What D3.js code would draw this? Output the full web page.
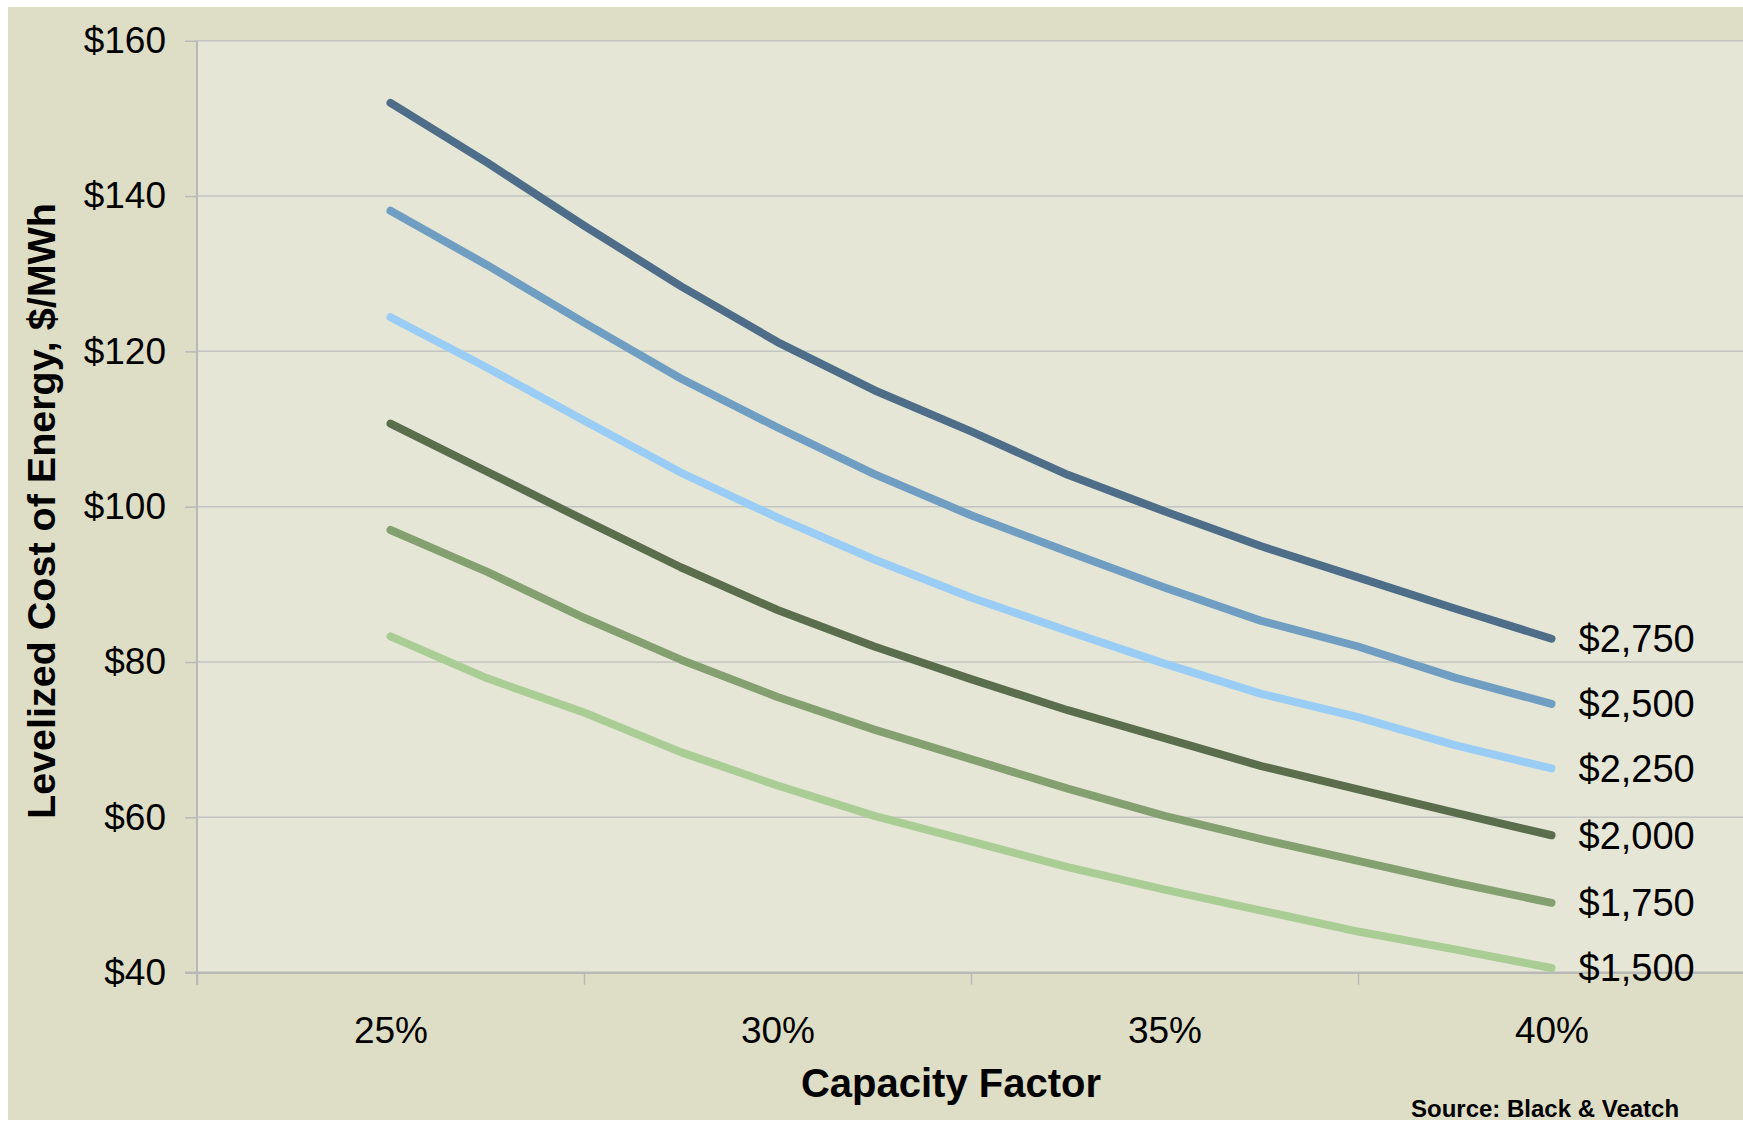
<!DOCTYPE html>
<html>
<head>
<meta charset="utf-8">
<script src="https://cdn.jsdelivr.net/npm/d3@7"></script>
<style>
  html, body { margin: 0; padding: 0; background: #ffffff; }
  svg { display: block; }
  text { font-family: "Liberation Sans", Arial, sans-serif; }
</style>
</head>
<body>
<svg id="chart" width="1743" height="1121"></svg>
<script>
// ---- data ----
const capacityFactors = [25, 26.25, 27.5, 28.75, 30, 31.25, 32.5, 33.75, 35, 36.25, 37.5, 38.75, 40];
const seriesNames = ["$2,750", "$2,500", "$2,250", "$2,000", "$1,750", "$1,500"];
const cost2750 = [152.0, 144.3, 136.2, 128.4, 121.2, 115.0, 109.7, 104.1, 99.4, 94.9, 90.9, 86.9, 83.0];
const cost2500 = [138.1, 131.1, 123.7, 116.5, 110.2, 104.2, 98.9, 94.2, 89.6, 85.3, 82.0, 78.0, 74.6];
const cost2250 = [124.4, 117.9, 111.1, 104.4, 98.6, 93.2, 88.3, 84.0, 79.8, 75.9, 72.9, 69.3, 66.3];
const cost2000 = [110.7, 104.5, 98.3, 92.2, 86.7, 82.0, 77.8, 73.8, 70.2, 66.6, 63.6, 60.6, 57.7];
const cost1750 = [97.0, 91.6, 85.7, 80.3, 75.5, 71.3, 67.5, 63.7, 60.2, 57.2, 54.4, 51.6, 49.0];
const cost1500 = [83.3, 77.9, 73.5, 68.4, 64.1, 60.2, 56.9, 53.6, 50.7, 48.0, 45.3, 43.0, 40.6];
const seriesValues = [cost2750, cost2500, cost2250, cost2000, cost1750, cost1500];
const seriesColors = ["#4d6d88", "#6f9ec2", "#99cdf6", "#5a6e4e", "#84a070", "#aacd96"];
const yTicks = [40, 60, 80, 100, 120, 140, 160];
const xLabelValues = [25, 30, 35, 40];
const xTickValues = [22.5, 27.5, 32.5, 37.5];
const xTitle = "Capacity Factor";
const yTitle = "Levelized Cost of Energy,  $/MWh";
const sourceText = "Source: Black & Veatch";

// ---- layout ----
const svg = d3.select("#chart");
const W = 1743, H = 1121;
const plotL = 197, plotR = 1745, plotT = 40.7, plotB = 972.7;

const x = d3.scaleLinear().domain([22.5, 42.5]).range([plotL, plotR]);
const y = d3.scaleLinear().domain([40, 160]).range([plotB, plotT]);

// outer background
svg.append("rect").attr("x", 8).attr("y", 7).attr("width", W - 8).attr("height", 1120 - 7)
  .attr("fill", "#dedec6");
// plot background
svg.append("rect").attr("x", plotL).attr("y", plotT).attr("width", plotR - plotL).attr("height", plotB - plotT)
  .attr("fill", "#e5e6d6");

// gridlines
svg.append("g").selectAll("line").data(yTicks.filter(d => d !== 40)).join("line")
  .attr("x1", plotL).attr("x2", plotR)
  .attr("y1", d => y(d)).attr("y2", d => y(d))
  .attr("stroke", "#c4c4c2").attr("stroke-width", 1.5);

// y axis
const yAxis = d3.axisLeft(y).tickValues(yTicks).tickSize(12).tickPadding(19)
  .tickFormat(d => "$" + d);
const gy = svg.append("g").attr("transform", `translate(${plotL},0)`).call(yAxis);
gy.select(".domain").attr("stroke", "#b9b9b6").attr("stroke-width", 2)
  .attr("d", `M0,${plotT}V${plotB + 12}`);
gy.selectAll(".tick line").attr("stroke", "#b9b9b6").attr("stroke-width", 1.5);
gy.selectAll(".tick text").attr("font-size", 37).attr("fill", "#000")
  .style("font-family", "'Liberation Sans', Arial, sans-serif");

// x axis (tick marks between categories)
const xAxisTicks = d3.axisBottom(x).tickValues(xTickValues).tickSize(12).tickFormat("");
const gx = svg.append("g").attr("transform", `translate(0,${plotB})`).call(xAxisTicks);
gx.select(".domain").attr("stroke", "#b9b9b6").attr("stroke-width", 2.5)
  .attr("d", `M${plotL - 12},0H${plotR}`);
gx.selectAll(".tick line").attr("stroke", "#b9b9b6").attr("stroke-width", 1.5);

// x labels
const xAxisLabels = d3.axisBottom(x).tickValues(xLabelValues).tickSize(0).tickPadding(44)
  .tickFormat(d => d + "%");
const gxl = svg.append("g").attr("transform", `translate(0,${plotB})`).call(xAxisLabels);
gxl.select(".domain").remove();
gxl.selectAll(".tick text").attr("font-size", 37).attr("fill", "#000")
  .style("font-family", "'Liberation Sans', Arial, sans-serif");

// lines
const line = d3.line().x((d, i) => x(capacityFactors[i])).y(d => y(d));
svg.append("g").selectAll("path").data(seriesValues).join("path")
  .attr("d", d => line(d))
  .attr("fill", "none")
  .attr("stroke", (d, i) => seriesColors[i])
  .attr("stroke-width", 8)
  .attr("stroke-linecap", "round")
  .attr("stroke-linejoin", "round");

// end labels
svg.append("g").selectAll("text").data(seriesValues).join("text")
  .attr("x", d => x(capacityFactors[capacityFactors.length - 1]) + 27)
  .attr("y", d => y(d[d.length - 1]))
  .attr("dy", "0.35em")
  .attr("font-size", 38)
  .attr("fill", "#000")
  .text((d, i) => seriesNames[i]);

// axis titles
svg.append("text")
  .attr("x", 951).attr("y", 1097)
  .attr("text-anchor", "middle")
  .attr("font-size", 40).attr("font-weight", "bold").attr("fill", "#000")
  .text(xTitle);

svg.append("text")
  .attr("transform", `translate(55,511) rotate(-90)`)
  .attr("text-anchor", "middle")
  .attr("font-size", 39.5).attr("font-weight", "bold").attr("fill", "#000")
  .text(yTitle);

// source
svg.append("text")
  .attr("x", 1411).attr("y", 1117)
  .attr("font-size", 24).attr("font-weight", "bold").attr("fill", "#000")
  .text(sourceText);
</script>
</body>
</html>
